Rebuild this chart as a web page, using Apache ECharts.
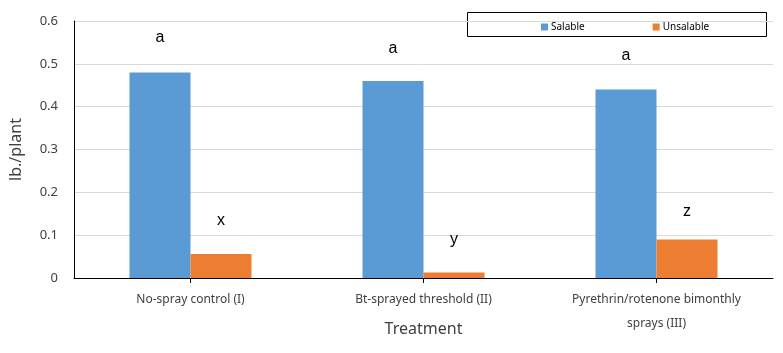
<!DOCTYPE html>
<html>
<head>
<meta charset="utf-8">
<script src="https://cdn.jsdelivr.net/npm/echarts@6/dist/echarts.min.js"></script>
<style>
  html, body { margin: 0; padding: 0; background: #fff; }
  #chart { width: 783px; height: 353px; }
</style>
</head>
<body>
<div id="chart"></div>
<script>
// treatments on the x axis
var categories = ['No-spray control (I)', 'Bt-sprayed threshold (II)', 'Pyrethrin/rotenone bimonthly\nsprays (III)']
var salable = [0.48, 0.46, 0.44]
var unsalable = [0.056, 0.013, 0.09]
// significance letters above the bars
var salableLetters = ['a', 'a', 'a']
var unsalableLetters = ['x', 'y', 'z']
var yTicks = [0, 0.1, 0.2, 0.3, 0.4, 0.5, 0.6]

var chart = echarts.init(document.getElementById('chart'))

function letterData(values, letters, dist) {
  return values.map(function (v, i) {
    return { value: v, label: { formatter: letters[i], distance: dist[i] } }
  })
}

var option = {
  animation: false,
  textStyle: { fontFamily: 'Noto Sans' },
  grid: { left: 74, right: 10, top: 21, bottom: 75, outerBoundsMode: 'none', containLabel: false },
  graphic: [{
    type: 'rect',
    shape: { x: 467.5, y: 12.5, width: 299, height: 24 },
    style: { fill: '#fff', stroke: '#000', lineWidth: 1 },
    z: 0
  }],
  legend: {
    data: ['Salable', 'Unsalable'],
    left: 536,
    top: 17,
    itemWidth: 7,
    itemHeight: 7,
    itemGap: 68,
    icon: 'rect',
    textStyle: { fontSize: 10, color: '#000', fontFamily: 'Noto Sans', padding: [0, 0, 0, -2] },
    z: 5
  },
  xAxis: {
    type: 'category',
    data: categories,
    name: 'Treatment',
    nameLocation: 'middle',
    nameGap: 43,
    nameMoveOverlap: false,
    nameTextStyle: { fontSize: 16, color: '#404040' },
    axisLine: { lineStyle: { color: '#000' } },
    axisTick: { show: true, alignWithLabel: true, length: 5, lineStyle: { color: '#000' } },
    axisLabel: { fontSize: 12, color: '#404040', margin: 10, lineHeight: 24, interval: 0 }
  },
  yAxis: {
    type: 'value',
    min: yTicks[0],
    max: yTicks[yTicks.length - 1],
    interval: 0.1,
    name: 'lb./plant',
    nameLocation: 'middle',
    nameGap: 50,
    nameMoveOverlap: false,
    nameTextStyle: { fontSize: 16, color: '#404040' },
    axisLine: { show: true, lineStyle: { color: '#000' } },
    axisTick: { show: false },
    axisLabel: { fontSize: 13, color: '#404040', margin: 16 },
    splitLine: { lineStyle: { color: '#d9d9d9' } }
  },
  series: [{
    name: 'Salable',
    type: 'bar',
    barWidth: 61,
    barGap: '0%',
    itemStyle: { color: '#5b9bd5' },
    label: { show: true, position: 'top', fontSize: 16, color: '#000', fontFamily: 'Liberation Sans' },
    data: letterData(salable, salableLetters, [27, 24, 26])
  }, {
    name: 'Unsalable',
    type: 'bar',
    barWidth: 61,
    itemStyle: { color: '#ed7d31' },
    label: { show: true, position: 'top', fontSize: 16, color: '#000', fontFamily: 'Liberation Sans' },
    data: letterData(unsalable, unsalableLetters, [25, 25, 20])
  }]
}

chart.setOption(option)
</script>
</body>
</html>
